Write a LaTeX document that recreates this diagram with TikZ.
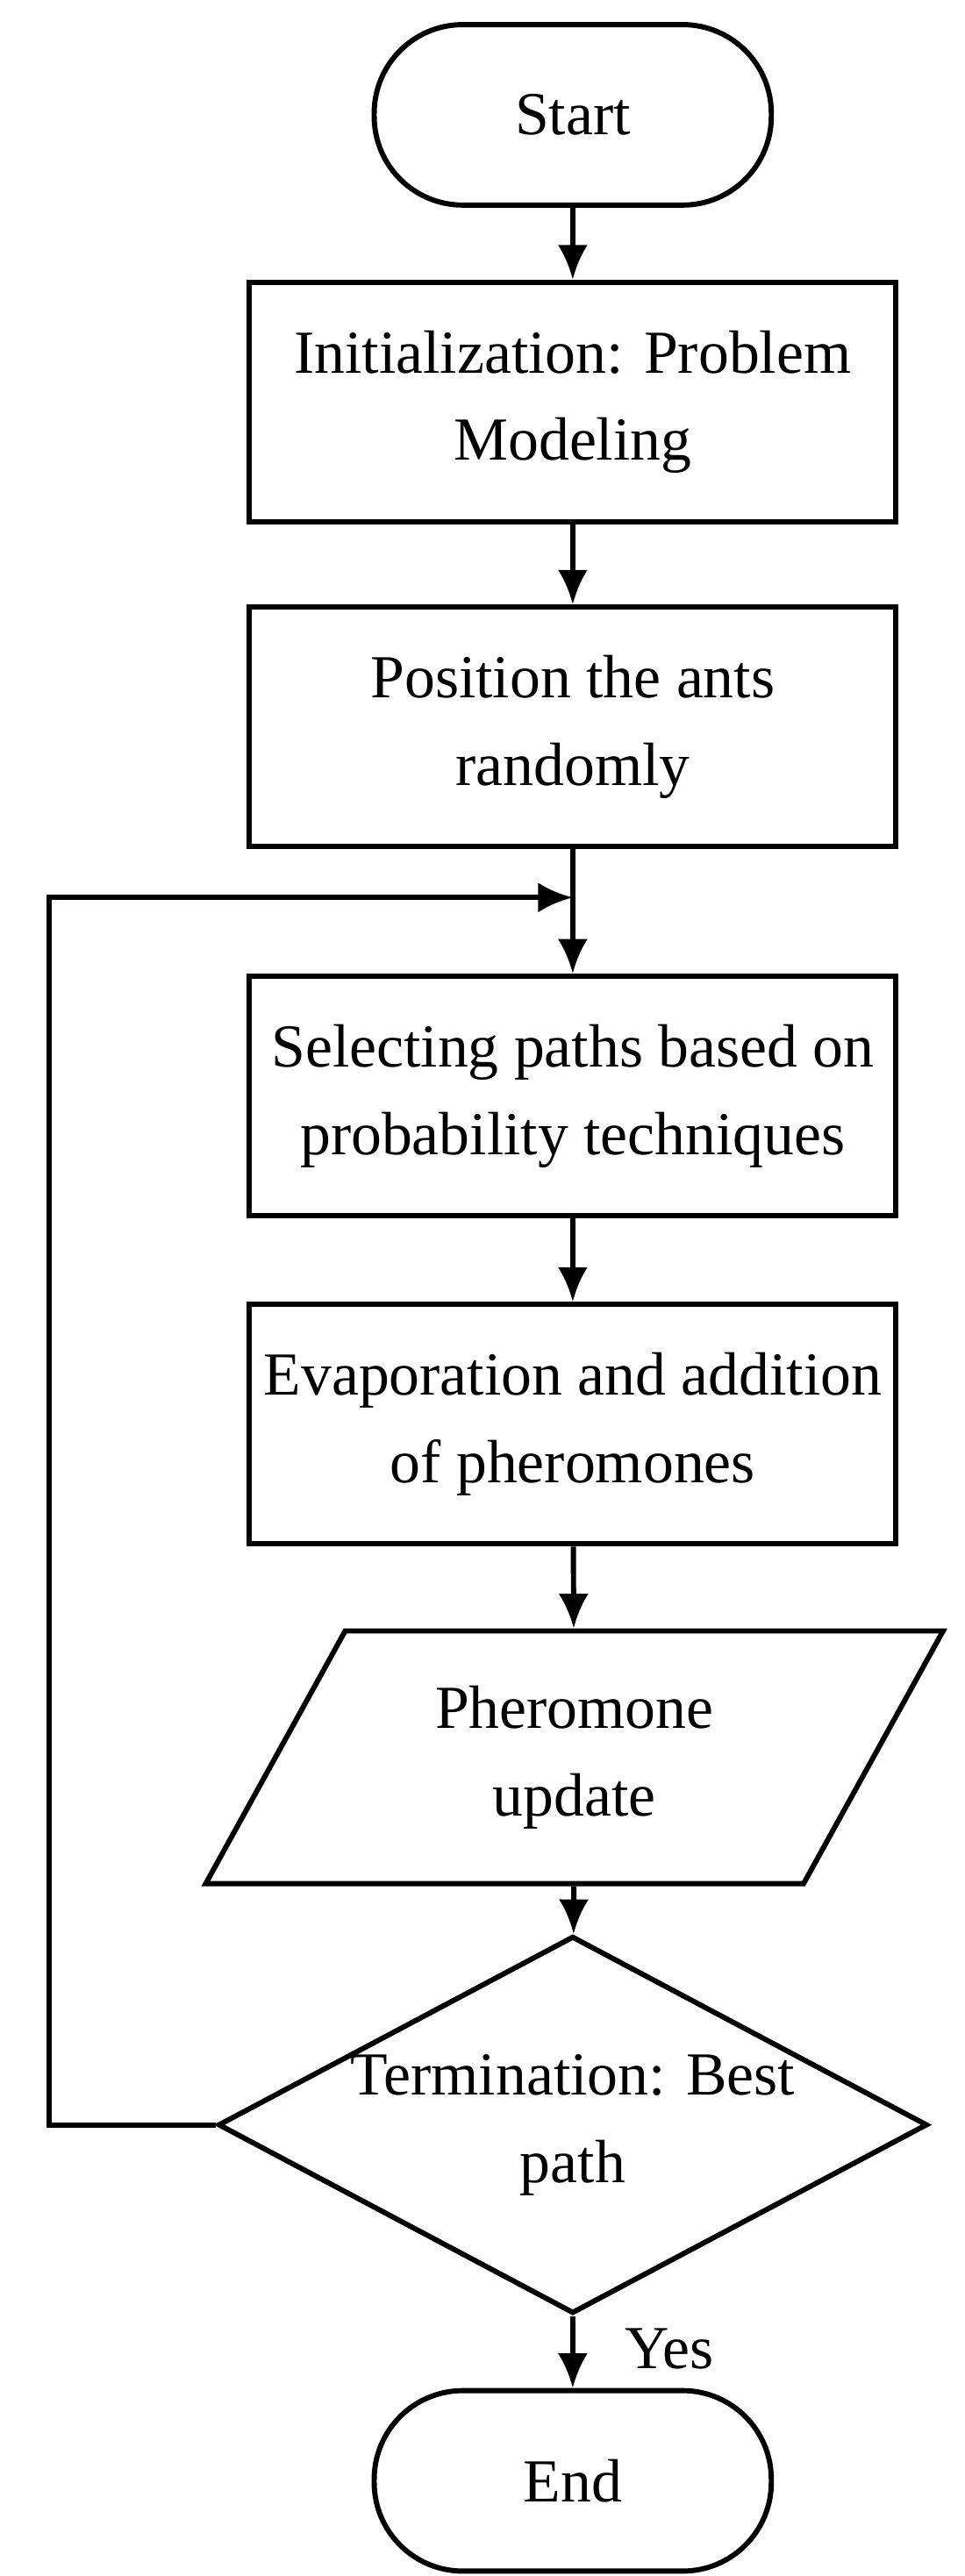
\documentclass[tikz,border=0pt]{standalone}
\usepackage{fontspec}
\setmainfont{Liberation Serif}
\usetikzlibrary{shapes.geometric, arrows.meta, positioning, calc}

\begin{document}
\begin{tikzpicture}[
	x=0.05cm, y=-0.05cm,
	font=\fontsize{53}{76}\selectfont,
	line width=4.5pt,
	box/.style = {rectangle, draw, align=center, minimum width=19.7cm, minimum height=7.3cm},
	term/.style = {rectangle, draw, rounded corners=2.7cm, minimum width=12.1cm, minimum height=5.5cm},
	io/.style = {trapezium, draw, trapezium left angle=60, trapezium right angle=120, trapezium stretches=true, minimum width=22.5cm, minimum height=7.7cm, align=center},
	decision/.style = {diamond, draw, align=center, inner sep=0pt, shape aspect=1.88, minimum width=21.6cm, minimum height=11.5cm},
	line/.style = {draw, -{Latex[length=30pt, width=26pt]}}
	]
	\useasboundingbox (0,0) rectangle (588,1570);
	
	% Nodes
	\node [term] (start) at (349,70) {Start};
	\node [box] (init) at (349,245) {Initialization: Problem\\Modeling};
	\node [box] (position) at (349,443) {Position the ants\\randomly};
	\coordinate (join) at (349,547);
	\node [box] (select) at (349,668) {Selecting paths based on\\probability techniques};
	\node [box] (evap) at (349,868) {Evaporation and addition\\of pheromones};
	\node [io] (update) at (350,1071) {Pheromone\\update};
	\node [decision] (termination) at (349,1295) {Termination: Best\\path};
	\node [term] (end) at (349,1512) {End};
	\coordinate (corner) at (30,547);
	
	% Lines
	\path [line] (start) -- (init);
	\path [line] (init) -- (position);
	\path [line] (position) -- (select);
	\path [line] (select) -- (evap);
	\path [line] (evap) -- (update);
	\path [line] (update) -- (termination);
	\path [line] (termination) -- node[right=1.4cm, pos=0.45] {Yes} (end);
	\path [line] (termination.west) -| (corner) -- (join);
\end{tikzpicture}
\end{document}
